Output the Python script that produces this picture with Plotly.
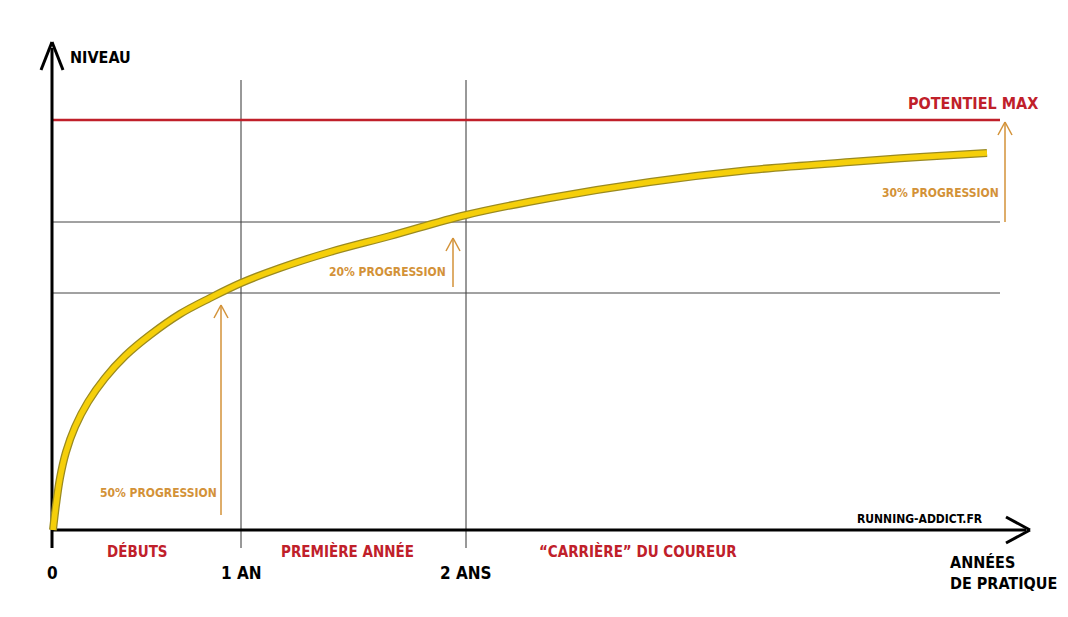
import plotly.graph_objects as go

# data in picture units (x: horizontal position, y: level upward)
curve_x = [53, 56, 60, 66, 75, 88, 105, 125, 150, 180, 210, 241, 280, 330, 390, 466, 550, 650, 750, 850, 920, 987]
curve_y_px = [530, 505, 478, 452, 427, 402, 378, 356, 335, 314, 298, 283, 268, 252, 236, 215, 198, 182, 170, 162, 157, 153]
H = 617
curve_y = [H - v for v in curve_y_px]

year_ticks_x = [52, 241, 466]
year_labels = ["0", "1 AN", "2 ANS"]
hgrid_px = [222, 293]
potentiel_px = 120
phases = [("DÉBUTS", 137), ("PREMIÈRE ANNÉE", 347), ("“CARRIÈRE” DU COUREUR", 638)]
arrows = [(221, 515, 305, "50% PROGRESSION", 158, 493),
          (453, 287, 238, "20% PROGRESSION", 387, 272),
          (1005, 222, 122, "30% PROGRESSION", 940, 193)]

FONT = "DejaVu Sans Condensed, sans-serif"
RED = "#c0202a"
ORANGE = "#d39238"

fig = go.Figure()
shapes = []
ann = []

def line(x0, y0, x1, y1, color, w):
    shapes.append(dict(type="line", x0=x0, y0=H - y0, x1=x1, y1=H - y1,
                       line=dict(color=color, width=w), layer="below"))

for gx in year_ticks_x[1:]:
    line(gx, 80, gx, 548, "#333", 1)
for gy in hgrid_px:
    line(52, gy, 1000, gy, "#444", 1)
line(52, potentiel_px, 1000, potentiel_px, RED, 2.5)
line(52, 548, 52, 48, "black", 3)
line(41, 70, 52, 42, "black", 3)
line(63, 70, 52, 42, "black", 3)
line(52, 530, 1026, 530, "black", 3)
line(1006, 517, 1030, 530, "black", 3)
line(1006, 543, 1030, 530, "black", 3)

for ax, y0, y1, txt, tx, ty in arrows:
    line(ax, y0, ax, y1, ORANGE, 1.5)
    line(ax - 7, y1 + 13, ax, y1, ORANGE, 1.5)
    line(ax + 7, y1 + 13, ax, y1, ORANGE, 1.5)
    ann.append(dict(x=tx, y=H - ty, text=txt, showarrow=False,
                    font=dict(family=FONT, size=12, color=ORANGE, weight="bold")))

for x, lab in zip(year_ticks_x, year_labels):
    ann.append(dict(x=x, y=H - 573, text=lab, showarrow=False,
                    font=dict(family=FONT, size=17, color="black", weight="bold")))
for lab, x in phases:
    ann.append(dict(x=x, y=H - 551, text=lab, showarrow=False,
                    font=dict(family=FONT, size=15, color=RED, weight="bold")))
ann += [
    dict(x=68, y=H - 57, text="NIVEAU", showarrow=False, xanchor="left",
         font=dict(family=FONT, size=16, color="black", weight="bold")),
    dict(x=1040, y=H - 103, text="POTENTIEL MAX", showarrow=False, xanchor="right",
         font=dict(family=FONT, size=16, color=RED, weight="bold")),
    dict(x=985, y=H - 519, text="RUNNING-ADDICT.FR", showarrow=False, xanchor="right",
         font=dict(family=FONT, size=12, color="black", weight="bold")),
    dict(x=948, y=H - 573, text="ANNÉES<br>DE PRATIQUE", showarrow=False, xanchor="left",
         align="left", font=dict(family=FONT, size=16, color="black", weight="bold")),
]

fig.add_trace(go.Scatter(x=curve_x, y=curve_y, mode="lines",
                         line=dict(color="#9a8a20", width=8, shape="spline"), hoverinfo="skip"))
fig.add_trace(go.Scatter(x=curve_x, y=curve_y, mode="lines",
                         line=dict(color="#f5cf0a", width=5.5, shape="spline"), hoverinfo="skip"))

fig.update_layout(width=1068, height=617, margin=dict(l=0, r=0, t=0, b=0),
                  paper_bgcolor="white", plot_bgcolor="white", showlegend=False,
                  shapes=shapes, annotations=ann,
                  xaxis=dict(range=[8, 1076], visible=False, fixedrange=True),
                  yaxis=dict(range=[-8, 609], visible=False, fixedrange=True))
fig.write_html("out.html", config={"displayModeBar": False})
